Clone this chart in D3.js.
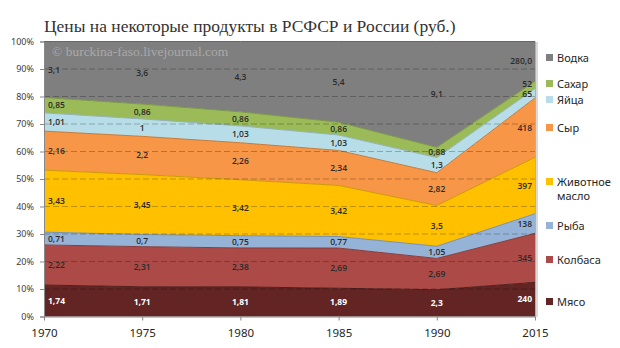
<!DOCTYPE html>
<html><head><meta charset="utf-8">
<script src="https://cdn.jsdelivr.net/npm/d3@7"></script>
<style>body{margin:0;background:#fff}svg{display:block}</style>
</head><body>
<script>
const years = ["1970","1975","1980","1985","1990","2015"];
const seriesNames = ["Мясо","Колбаса","Рыба","Животное масло","Сыр","Яйца","Сахар","Водка"];
const meat    = [1.74, 1.71, 1.81, 1.89, 2.3, 240];
const sausage = [2.22, 2.31, 2.38, 2.69, 2.69, 345];
const fish    = [0.71, 0.7, 0.75, 0.77, 1.05, 138];
const butter  = [3.43, 3.45, 3.42, 3.42, 3.5, 397];
const cheese  = [2.16, 2.2, 2.26, 2.34, 2.82, 418];
const eggs    = [1.01, 1, 1.03, 1.03, 1.3, 65];
const sugar   = [0.85, 0.86, 0.86, 0.86, 0.88, 52];
const vodka   = [3.1, 3.6, 4.3, 5.4, 9.1, 280];
const yTicks  = [0,0.1,0.2,0.3,0.4,0.5,0.6,0.7,0.8,0.9,1];
const colors  = ["#632523","#ab4a47","#95b3d7","#ffc000","#f79646","#b7dee8","#9bbb59","#7f7f7f"];
const title = "Цены на некоторые продукты в РСФСР и России (руб.)";
const watermark = "© burckina-faso.livejournal.com";

const allValues = [meat,sausage,fish,butter,cheese,eggs,sugar,vodka];
const table = years.map((y,i)=>{const r={year:y}; seriesNames.forEach((s,k)=>r[s]=allValues[k][i]); return r;});

const W=620,H=348;
const svg=d3.select("body").append("svg").attr("width",W).attr("height",H);
const x=d3.scalePoint().domain(years).range([44,535]);
const y=d3.scaleLinear().domain([0,1]).range([316.5,41.5]);

const stack=d3.stack().keys(seriesNames).offset(d3.stackOffsetExpand);
const layers=stack(table);

const area=d3.area().x(d=>x(d.data.year)).y0(d=>y(d[0])).y1(d=>y(d[1]));
const topLine=d3.line().x(d=>x(d.data.year)).y(d=>y(d[1]));

svg.append("rect").attr("x",535).attr("y",42).attr("width",3).attr("height",275).attr("fill","#d9d9d9");

const g=svg.append("g");
g.selectAll("path.a").data(layers).join("path").attr("class","a")
  .attr("d",area).attr("fill",(d,i)=>colors[i]);
g.selectAll("path.l").data(layers).join("path").attr("class","l")
  .attr("d",topLine).attr("fill","none")
  .attr("stroke",(d,i)=>d3.color(colors[i]).darker(0.6)).attr("stroke-width",1);

svg.append("g").selectAll("line").data(yTicks.filter(t=>t>0&&t<1)).join("line")
  .attr("x1",44).attr("x2",535).attr("y1",d=>y(d)).attr("y2",d=>y(d))
  .attr("stroke","rgba(0,0,0,0.25)").attr("stroke-dasharray","6,3").attr("stroke-width",1);

svg.append("line").attr("x1",535.5).attr("x2",535.5).attr("y1",41.5).attr("y2",316.5).attr("stroke","#b0b0b0");

svg.append("text").attr("x",52).attr("y",56).text(watermark)
  .attr("font-family","Liberation Serif, serif").attr("font-size",13.5).attr("fill","#a9a9a9");

const ya=d3.axisLeft(y).tickValues(yTicks).tickFormat(d3.format(".0%")).tickSize(4).tickPadding(6);
const yg=svg.append("g").attr("transform","translate(44,0)").call(ya);
yg.selectAll("text").attr("font-family","Noto Sans, sans-serif").attr("font-size",9).attr("fill","#404040");
yg.selectAll("line,path").attr("stroke","#888");
const xa=d3.axisBottom(x).tickSize(4).tickPadding(8);
const xg=svg.append("g").attr("transform","translate(0,316.5)").call(xa);
xg.select(".domain").attr("d","M44,0.5H535.5");
xg.selectAll("text").attr("font-family","Noto Sans, sans-serif").attr("font-size",11.5).attr("fill","#262626");
xg.selectAll("line,path").attr("stroke","#888");

const fmt=(v,k)=> (k===seriesNames.length-1 ? d3.format(".1f")(v) : String(v)).replace(".",",");
years.forEach((yr,i)=>{
  let labs=layers.map((L,k)=>({k, v:allValues[k][i], y:y((L[i][0]+L[i][1])/2)}));
  for(let it=0;it<20;it++){
    for(let j=1;j<labs.length;j++){
      const a=labs[j-1],b=labs[j]; const gap=a.y-b.y;
      if(gap<10){const p=(10-gap)/2; a.y+=p; b.y-=p;}
    }
  }
  const anchor=i===0?"start":(i===years.length-1?"end":"middle");
  const xx=i===0?x(yr)+4:(i===years.length-1?x(yr)-3:x(yr));
  labs.forEach(l=>{
    svg.append("text").attr("x",xx).attr("y",l.y+3).attr("text-anchor",anchor)
      .attr("font-family","Open Sans, sans-serif").attr("font-size",8.5)
      .attr("font-weight",l.k===0?"bold":"600")
      .attr("fill",l.k===0?"#fff":"#2a2a2a").text(fmt(l.v,l.k));
  });
});

const legendY=[302,260,226,182,128,100,84,58];
seriesNames.forEach((s,k)=>{
  svg.append("rect").attr("x",546).attr("y",legendY[k]-4).attr("width",7).attr("height",7).attr("fill",colors[k]);
  const t=svg.append("text").attr("x",557).attr("y",legendY[k]+4)
    .attr("font-family","Noto Sans, sans-serif").attr("font-size",11).attr("fill","#262626");
  const parts=s==="Животное масло"?["Животное","масло"]:[s];
  parts.forEach((p,j)=>t.append("tspan").attr("x",557).attr("dy",j===0?0:14).text(p));
});

const tt=svg.append("text").attr("x",44).attr("y",31.5).text(title)
  .attr("font-family","Liberation Serif, serif").attr("font-size",20).attr("fill","#333");
const w=tt.node().getComputedTextLength();
tt.attr("font-size",20*412/w);
</script>
</body></html>
